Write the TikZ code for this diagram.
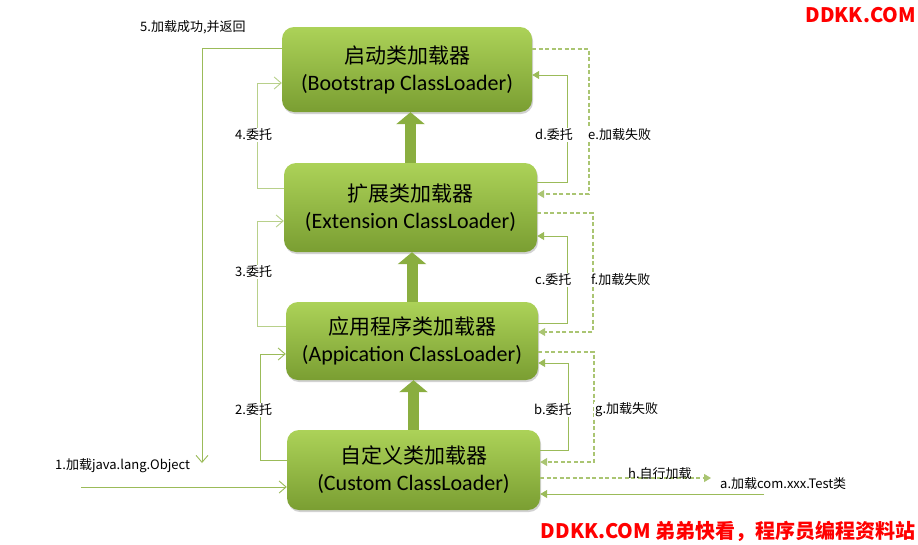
\documentclass[tikz,border=0pt]{standalone}
\usepackage{fontspec}
\newfontfamily\cjk{Noto Sans CJK SC}
\newfontfamily\en{Carlito}
\usetikzlibrary{arrows.meta,shadows}
\definecolor{lg}{HTML}{9BBB59}
\definecolor{lgl}{HTML}{B8D08A}
\definecolor{boxtop}{HTML}{ACD258}
\definecolor{boxbot}{HTML}{7A9E32}
\definecolor{thick}{HTML}{8AAE40}
\definecolor{wm}{HTML}{FF0000}
\tikzset{
  loader/.style={rounded corners=12pt, top color=boxtop, bottom color=boxbot, draw=none,
    drop shadow={shadow xshift=1pt, shadow yshift=-2pt, opacity=0.35},
    align=center, inner sep=0pt, font=\fontsize{21}{27}\selectfont},
  lineo/.style={draw=lg, line width=0.9pt, -{Straight Barb[length=7pt,width=12pt]}},
  lineol/.style={draw=lgl, line width=0.9pt, -{Straight Barb[length=7pt,width=12pt]}},
  linef/.style={draw=lg, line width=0.9pt, -{Triangle[length=7pt,width=8pt]}},
  linefl/.style={draw=lgl, line width=0.9pt, -{Triangle[length=7pt,width=8pt]}},
  lined/.style={draw=lg!85, line width=1.1pt, dash pattern=on 4pt off 2.5pt, -{Triangle[length=7pt,width=8pt]}},
  bigarrow/.style={draw=thick, line width=11pt, -{Triangle[length=12pt,width=28pt]}},
  lbl/.style={fill=white, inner sep=1pt, anchor=west, font=\cjk\fontsize{13}{15}\selectfont},
  wmark/.style={text=wm, font=\cjk\bfseries\fontsize{20}{22}\selectfont, inner sep=0pt}
}
\begin{document}
\begin{tikzpicture}[x=1pt,y=-1pt]
\useasboundingbox[fill=white] (0,0) rectangle (918,544);

% loaders
\node[loader, minimum width=250pt, minimum height=85pt] (boot) at (407,69.5)
  {{\cjk 启动类加载器}\\{\en\fontsize{22}{27}\selectfont (Bootstrap ClassLoader)}};
\node[loader, minimum width=253pt, minimum height=89pt] (ext) at (410.5,207.5)
  {{\cjk 扩展类加载器}\\{\en\fontsize{22}{27}\selectfont (Extension ClassLoader)}};
\node[loader, minimum width=252pt, minimum height=78pt] (app) at (412,341)
  {{\cjk 应用程序类加载器}\\{\en\fontsize{22}{27}\selectfont (Appication ClassLoader)}};
\node[loader, minimum width=253pt, minimum height=80pt] (cus) at (413.5,470)
  {{\cjk 自定义类加载器}\\{\en\fontsize{22}{27}\selectfont (Custom ClassLoader)}};

% thick parent arrows
\draw[bigarrow] (ext.north) -- (ext.north |- boot.south);
\draw[bigarrow] (app.north) -- (app.north |- ext.south);
\draw[bigarrow] (cus.north) -- (cus.north |- app.south);

% free ends
\coordinate (e5) at (202,463);
\coordinate (eh) at (711,478);
\coordinate (sa) at (764,494);
\coordinate (s1) at (81,487);

% connectors
\draw[lineo] (boot.west |- 0,48) -- (202,48) -- (e5);
\draw[lineol] (ext.west |- 0,188) -- (257,188) -- (257,83) -- (boot.west |- 0,83);
\draw[linef] (ext.east |- 0,182) -- (567,182) -- (567,75) -- (boot.east |- 0,75);
\draw[lined] (boot.east |- 0,49) -- (589,49) -- (589,194) -- (ext.east |- 0,194);
\draw[lineol] (app.west |- 0,326) -- (257,326) -- (257,221) -- (ext.west |- 0,221);
\draw[linef] (app.east |- 0,323) -- (567,323) -- (567,236) -- (ext.east |- 0,236);
\draw[lined] (ext.east |- 0,213) -- (593,213) -- (593,332) -- (app.east |- 0,332);
\draw[lineo] (cus.west |- 0,460) -- (260,460) -- (260,354) -- (app.west |- 0,354);
\draw[linef] (cus.east |- 0,450) -- (568,450) -- (568,363) -- (app.east |- 0,363);
\draw[lined] (app.east |- 0,352) -- (594,352) -- (594,462) -- (cus.east |- 0,462);
\draw[lined] (cus.east |- 0,478) -- (eh);
\draw[linef] (sa) -- (cus.east |- 0,494);
\draw[lineo] (s1) -- (cus.west |- 0,487);

% labels
\node[lbl] (t5) at (139,27) {5.加载成功,并返回};
\node[lbl] (t4) at (234,135) {4.委托};
\node[lbl] (td) at (534,135) {d.委托};
\node[lbl] (te) at (587,135) {e.加载失败};
\node[lbl] (t3) at (234,272) {3.委托};
\node[lbl] (tc) at (534,280) {c.委托};
\node[lbl] (tf) at (590,280) {f.加载失败};
\node[lbl] (t2) at (234,410) {2.委托};
\node[lbl] (tb) at (533,410) {b.委托};
\node[lbl] (tg) at (594,410) {g.加载失败};
\node[lbl] (t1) at (54,466) {1.加载java.lang.Object};
\node[lbl, fill=none] (th) at (627,474) {h.自行加载};
\node[lbl] (ta) at (719,484) {a.加载com.xxx.Test类};

% watermarks
\node[wmark, anchor=east] (w1) at (916,15) {DDKK.COM};
\node[wmark, anchor=east] (w2) at (916,531) {DDKK.COM 弟弟快看，程序员编程资料站};
\end{tikzpicture}
\end{document}
